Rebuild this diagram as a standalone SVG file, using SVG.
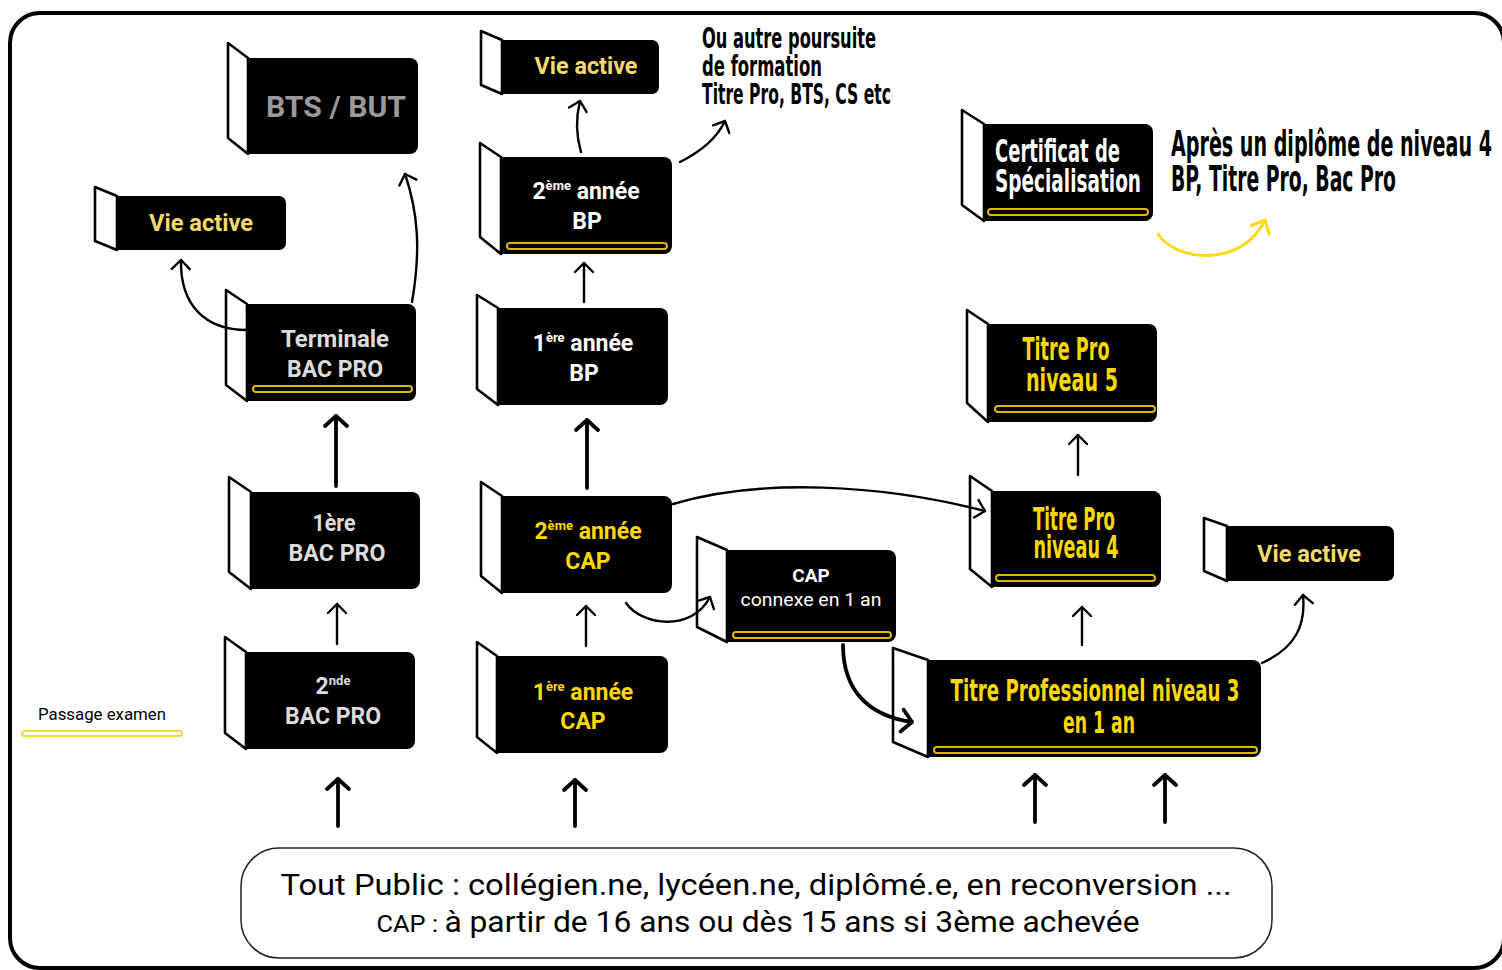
<svg xmlns="http://www.w3.org/2000/svg" width="1502" height="970" viewBox="0 0 1502 970">
<style>
.flap{fill:#fff;stroke:#000;stroke-width:2.6;stroke-linejoin:round}
.box{fill:#000}
.pill{fill:none;stroke:#DDB700;stroke-width:2}
.din{font-family:Roboto,"DejaVu Sans",sans-serif;font-weight:700;text-anchor:middle}
.cond{font-family:"Liberation Sans Narrow","DejaVu Sans Condensed","Liberation Sans",sans-serif;font-weight:700}
.va{fill:#F6DA6A;font-size:23px}
.gray{fill:#DCDCDC;font-size:23px}
.wh{fill:#fff;font-size:23px}
.yl{fill:#FFD800;font-size:23px}
.ty{fill:#FFD800;text-anchor:middle}
.c{fill:none;stroke:#000;stroke-linecap:round}
.thin{stroke-width:2.4;marker-end:url(#ah)}
.thick{stroke-width:3.8;marker-end:url(#ahb)}
</style>
<defs>
<marker id="ah" markerUnits="userSpaceOnUse" orient="auto" refX="0" refY="0" markerWidth="20" markerHeight="20" overflow="visible">
<path d="M -9 -9 L 0 0 L -9 9" fill="none" stroke="#000" stroke-width="2.4" stroke-linecap="round" stroke-linejoin="round"/>
</marker>
<marker id="ahb" markerUnits="userSpaceOnUse" orient="auto" refX="0" refY="0" markerWidth="20" markerHeight="20" overflow="visible">
<path d="M -10 -11 L 0 0 L -10 11" fill="none" stroke="#000" stroke-width="3.8" stroke-linecap="round" stroke-linejoin="round"/>
</marker>
<marker id="ahy" markerUnits="userSpaceOnUse" orient="auto" refX="0" refY="0" markerWidth="20" markerHeight="20" overflow="visible">
<path d="M -11 -10 L 0 0 L -11 10" fill="none" stroke="#FFDA1A" stroke-width="3" stroke-linecap="round" stroke-linejoin="round"/>
</marker>
</defs>
<rect width="1502" height="970" fill="#fff"/>
<rect id="frame" x="10" y="13" width="1494" height="955" rx="30" fill="none" stroke="#000" stroke-width="4"/>

<g id="n-bts">
<rect class="box" x="248" y="58" width="170" height="96" rx="8"/><rect class="box" x="248" y="58" width="20" height="96"/>
<path class="flap" d="M 228 43 L 248 58 L 248 154 L 228 138 Z"/>
<text class="din" x="336" y="117" font-size="30" fill="#9A9A9A" textLength="140" lengthAdjust="spacingAndGlyphs">BTS / BUT</text>
</g>

<g id="n-va-left">
<rect class="box" x="117" y="196" width="169" height="54" rx="7"/><rect class="box" x="117" y="196" width="20" height="54"/>
<path class="flap" d="M 95 187 L 117 196 L 117 250 L 95 241 Z"/>
<text class="din va" x="201" y="231" textLength="104" lengthAdjust="spacingAndGlyphs">Vie active</text>
</g>

<g id="n-terminale">
<rect class="box" x="247" y="304" width="169" height="97" rx="8"/><rect class="box" x="247" y="304" width="20" height="97"/>
<path class="flap" d="M 226 290 L 247 304 L 247 401 L 226 385 Z"/>
<text class="din gray" x="335" y="347" textLength="108" lengthAdjust="spacingAndGlyphs">Terminale</text>
<text class="din gray" x="335" y="377" textLength="96" lengthAdjust="spacingAndGlyphs">BAC PRO</text>
<rect class="pill" x="253" y="386" width="159" height="6" rx="3"/>
</g>

<g id="n-1ere-bac">
<rect class="box" x="251" y="492" width="169" height="97" rx="8"/><rect class="box" x="251" y="492" width="20" height="97"/>
<path class="flap" d="M 229 477 L 251 492 L 251 589 L 229 572 Z"/>
<text class="din gray" x="334" y="531" textLength="43" lengthAdjust="spacingAndGlyphs">1ère</text>
<text class="din gray" x="337" y="561" textLength="97" lengthAdjust="spacingAndGlyphs">BAC PRO</text>
</g>

<g id="n-2nde-bac">
<rect class="box" x="246" y="652" width="169" height="97" rx="8"/><rect class="box" x="246" y="652" width="20" height="97"/>
<path class="flap" d="M 225 637 L 246 652 L 246 749 L 225 733 Z"/>
<text class="din gray" x="333" y="694"><tspan>2</tspan><tspan font-size="13" dy="-9">nde</tspan></text>
<text class="din gray" x="333" y="724" textLength="96" lengthAdjust="spacingAndGlyphs">BAC PRO</text>
</g>

<g id="n-va-mid">
<rect class="box" x="502" y="40" width="157" height="54" rx="7"/><rect class="box" x="502" y="40" width="20" height="54"/>
<path class="flap" d="M 481 31 L 502 40 L 502 94 L 481 85 Z"/>
<text class="din va" x="586" y="74" textLength="103" lengthAdjust="spacingAndGlyphs">Vie active</text>
</g>

<g id="n-2eme-bp">
<rect class="box" x="501" y="157" width="171" height="97" rx="8"/><rect class="box" x="501" y="157" width="20" height="97"/>
<path class="flap" d="M 480 143 L 501 157 L 501 254 L 480 237 Z"/>
<text class="din wh" x="586" y="199"><tspan>2</tspan><tspan font-size="13" dy="-9">ème</tspan><tspan dy="9"> année</tspan></text>
<text class="din wh" x="587" y="229">BP</text>
<rect class="pill" x="507" y="243" width="160" height="6" rx="3"/>
</g>

<g id="n-1ere-bp">
<rect class="box" x="498" y="308" width="170" height="97" rx="8"/><rect class="box" x="498" y="308" width="20" height="97"/>
<path class="flap" d="M 477 295 L 498 308 L 498 405 L 477 389 Z"/>
<text class="din wh" x="583" y="351"><tspan>1</tspan><tspan font-size="13" dy="-9">ère</tspan><tspan dy="9"> année</tspan></text>
<text class="din wh" x="584" y="381">BP</text>
</g>

<g id="n-2eme-cap">
<rect class="box" x="502" y="496" width="170" height="97" rx="8"/><rect class="box" x="502" y="496" width="20" height="97"/>
<path class="flap" d="M 481 482 L 502 496 L 502 593 L 481 576 Z"/>
<text class="din yl" x="588" y="539"><tspan>2</tspan><tspan font-size="13" dy="-9">ème</tspan><tspan dy="9"> année</tspan></text>
<text class="din yl" x="588" y="569">CAP</text>
</g>

<g id="n-1ere-cap">
<rect class="box" x="497" y="656" width="171" height="97" rx="8"/><rect class="box" x="497" y="656" width="20" height="97"/>
<path class="flap" d="M 477 642 L 497 656 L 497 753 L 477 737 Z"/>
<text class="din yl" x="583" y="700"><tspan>1</tspan><tspan font-size="13" dy="-9">ère</tspan><tspan dy="9"> année</tspan></text>
<text class="din yl" x="583" y="729">CAP</text>
</g>

<g id="n-cap-connexe">
<rect class="box" x="727" y="550" width="169" height="92" rx="8"/><rect class="box" x="727" y="550" width="20" height="92"/>
<path class="flap" d="M 697 537 L 727 550 L 727 642 L 697 627 Z"/>
<text class="din" x="811" y="582" font-size="19" fill="#fff">CAP</text>
<text x="811" y="606" font-family="Roboto,'DejaVu Sans',sans-serif" font-size="18" fill="#fff" text-anchor="middle" textLength="141" lengthAdjust="spacingAndGlyphs">connexe en 1 an</text>
<rect class="pill" x="733" y="632" width="158" height="6" rx="3"/>
</g>

<g id="n-tp4">
<rect class="box" x="992" y="491" width="169" height="96" rx="8"/><rect class="box" x="992" y="491" width="20" height="96"/>
<path class="flap" d="M 970 476 L 992 491 L 992 587 L 970 569 Z"/>
<text class="cond ty" font-size="18" transform="translate(1074 530) scale(1 1.78)"><tspan x="0" y="0" textLength="82" lengthAdjust="spacingAndGlyphs">Titre Pro</tspan><tspan x="2" y="15.7" textLength="85" lengthAdjust="spacingAndGlyphs">niveau 4</tspan></text>
<rect class="pill" x="996" y="575" width="159" height="6" rx="3"/>
</g>

<g id="n-tp5">
<rect class="box" x="988" y="324" width="169" height="98" rx="8"/><rect class="box" x="988" y="324" width="20" height="98"/>
<path class="flap" d="M 967 310 L 988 324 L 988 422 L 967 403 Z"/>
<text class="cond ty" font-size="18.5" transform="translate(1066 360) scale(1 1.74)"><tspan x="0" y="0" textLength="87" lengthAdjust="spacingAndGlyphs">Titre Pro</tspan><tspan x="6" y="17.8" textLength="92" lengthAdjust="spacingAndGlyphs">niveau  5</tspan></text>
<rect class="pill" x="995" y="406" width="160" height="6" rx="3"/>
</g>

<g id="n-tp3">
<rect class="box" x="928" y="660" width="333" height="97" rx="8"/><rect class="box" x="928" y="660" width="20" height="97"/>
<path class="flap" d="M 893 648 L 928 660 L 928 757 L 893 742 Z"/>
<text class="cond ty" font-size="19" transform="translate(1095 701) scale(1 1.62)"><tspan x="0" y="0" textLength="289" lengthAdjust="spacingAndGlyphs">Titre Professionnel niveau 3</tspan><tspan x="4" y="19.75" textLength="72" lengthAdjust="spacingAndGlyphs">en 1 an</tspan></text>
<rect class="pill" x="934" y="747" width="323" height="6" rx="3"/>
</g>

<g id="n-va-right">
<rect class="box" x="1227" y="526" width="167" height="55" rx="7"/><rect class="box" x="1227" y="526" width="20" height="55"/>
<path class="flap" d="M 1204 518 L 1227 526 L 1227 581 L 1204 571 Z"/>
<text class="din va" x="1309" y="562" textLength="104" lengthAdjust="spacingAndGlyphs">Vie active</text>
</g>

<g id="n-certificat">
<rect class="box" x="984" y="124" width="169" height="97" rx="8"/><rect class="box" x="984" y="124" width="20" height="97"/>
<path class="flap" d="M 962 110 L 984 124 L 984 221 L 962 205 Z"/>
<text class="cond" font-size="18.5" fill="#fff" transform="translate(995 162) scale(1 1.74)"><tspan x="0" y="0" textLength="125" lengthAdjust="spacingAndGlyphs">Certificat de</tspan><tspan x="0" y="17.24" textLength="146" lengthAdjust="spacingAndGlyphs">Spécialisation</tspan></text>
<rect class="pill" x="988" y="209" width="160" height="6" rx="3"/>
</g>

<g id="t-apres">
<text class="cond" font-size="21.2" fill="#000" transform="translate(1171 156) scale(1 1.71)"><tspan x="0" y="0" textLength="321" lengthAdjust="spacingAndGlyphs">Après un diplôme de niveau 4</tspan><tspan x="0" y="20.47" textLength="225" lengthAdjust="spacingAndGlyphs">BP, Titre Pro, Bac Pro</tspan></text>
</g>

<g id="t-autre">
<text class="cond" font-size="18" fill="#000" transform="translate(702 48) scale(1 1.55)"><tspan x="0" y="0" textLength="174" lengthAdjust="spacingAndGlyphs">Ou autre poursuite</tspan><tspan x="0" y="18.06" textLength="120" lengthAdjust="spacingAndGlyphs">de formation</tspan><tspan x="0" y="36.13" textLength="189" lengthAdjust="spacingAndGlyphs">Titre Pro, BTS, CS etc</tspan></text>
</g>

<g id="legend">
<text x="38" y="720" font-family="Roboto,'DejaVu Sans',sans-serif" font-size="16" fill="#000" textLength="128" lengthAdjust="spacingAndGlyphs">Passage examen</text>
<rect x="22" y="731" width="160" height="5" rx="2.5" fill="#fff" stroke="#F2DA3C" stroke-width="2"/>
</g>

<g id="n-public">
<rect x="241" y="848" width="1031" height="110" rx="38" fill="#fff" stroke="#222" stroke-width="1.5"/>
<text x="756" y="895" font-family="Roboto,'DejaVu Sans',sans-serif" font-size="30" fill="#000" text-anchor="middle" textLength="951" lengthAdjust="spacingAndGlyphs">Tout Public : collégien.ne, lycéen.ne, diplômé.e, en reconversion ...</text>
<text x="758" y="932" font-family="Roboto,'DejaVu Sans',sans-serif" font-size="30" fill="#000" text-anchor="middle" textLength="763" lengthAdjust="spacingAndGlyphs"><tspan font-size="24">CAP : </tspan>à partir de 16 ans ou dès 15 ans si 3ème achevée</text>
</g>

<g id="connectors">
<path class="c thin" d="M 412 302 C 421 250 418 212 405 174"/>
<path class="c thin" d="M 247 330 C 205 330 180 305 181 260"/>
<path class="c thick" d="M 336 486 L 336 416"/>
<path class="c thin" d="M 337 644 L 337 604"/>
<path class="c thick" d="M 338 826 L 338 779"/>
<path class="c thick" d="M 575 826 L 575 780"/>
<path class="c thin" d="M 586 646 L 586 606"/>
<path class="c thick" d="M 587 488 L 587 420"/>
<path class="c thin" d="M 584 302 L 584 263"/>
<path class="c thin" d="M 581 152 C 576 135 576 117 580 101"/>
<path class="c thin" d="M 680 162 C 700 152 716 140 725 121"/>
<path class="c thin" d="M 673 504 C 760 478 880 484 985 511"/>
<path class="c thin" d="M 626 603 C 642 626 692 632 710 597"/>
<path class="c thick" d="M 843 645 C 843 692 870 716 912 722"/>
<path class="c thin" d="M 1082 645 L 1082 607"/>
<path class="c thin" d="M 1078 475 L 1078 435"/>
<path class="c thin" d="M 1262 663 C 1295 648 1306 626 1303 595"/>
<path class="c thick" d="M 1035 822 L 1035 775"/>
<path class="c thick" d="M 1165 822 L 1165 775"/>
<path d="M 1158 234 C 1176 262 1242 268 1265 220" fill="none" stroke="#FFDA1A" stroke-width="3" stroke-linecap="round" marker-end="url(#ahy)"/>
</g>
</svg>
